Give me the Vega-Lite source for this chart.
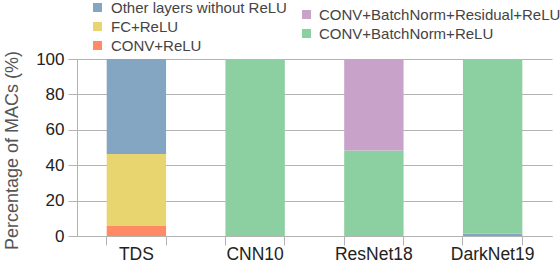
{
  "$schema": "https://vega.github.io/schema/vega-lite/v6.json",
  "width": 475,
  "height": 177,
  "autosize": "none",
  "padding": {"left": 77, "top": 59, "right": 8, "bottom": 26},
  "background": "white",
  "config": {
    "view": {"stroke": null},
    "font": "Liberation Sans",
    "axis": {"gridColor": "#b3b3b3", "domainColor": "#b3b3b3", "tickColor": "#b3b3b3", "labelFont": "Liberation Sans", "titleFont": "Liberation Sans"},
    "legend": {"labelFont": "Liberation Sans"}
  },
  "data": {
    "values": [
      {"model": "TDS", "layer": "CONV+ReLU", "pct": 5.6, "ord": 0, "group": "A"},
      {"model": "TDS", "layer": "FC+ReLU", "pct": 40.7, "ord": 1, "group": "A"},
      {"model": "TDS", "layer": "Other layers without ReLU", "pct": 53.7, "ord": 2, "group": "A"},
      {"model": "CNN10", "layer": "CONV+BatchNorm+ReLU", "pct": 100, "ord": 3, "group": "B"},
      {"model": "ResNet18", "layer": "CONV+BatchNorm+ReLU", "pct": 48.3, "ord": 3, "group": "B"},
      {"model": "ResNet18", "layer": "CONV+BatchNorm+Residual+ReLU", "pct": 51.7, "ord": 4, "group": "B"},
      {"model": "DarkNet19", "layer": "Other layers without ReLU", "pct": 1.3, "ord": 2, "group": "A"},
      {"model": "DarkNet19", "layer": "CONV+BatchNorm+ReLU", "pct": 98.7, "ord": 3, "group": "B"}
    ]
  },
  "transform": [
    {"stack": "pct", "groupby": ["model"], "sort": [{"field": "ord", "order": "ascending"}], "as": ["y0", "y1"]}
  ],
  "layer": [
    {
      "transform": [{"filter": "datum.group === 'A'"}],
      "mark": {"type": "bar"},
      "encoding": {
        "x": {
          "field": "model", "type": "nominal", "sort": ["TDS", "CNN10", "ResNet18", "DarkNet19"],
          "scale": {"paddingInner": 0.5, "paddingOuter": 0.25},
          "axis": {"title": null, "labelAngle": 0, "labelFontSize": 17.5, "labelColor": "#222", "bandPosition": 0, "tickSize": 9, "labelPadding": 0, "domainColor": "#b3b3b3", "orient": "bottom"}
        },
        "y": {
          "field": "y0", "type": "quantitative",
          "scale": {"domain": [0, 100], "nice": false},
          "axis": {"values": [0, 20, 40, 60, 80, 100], "labelOverlap": false, "title": "Percentage of MACs (%)", "titleFontSize": 18, "titleFontWeight": "normal", "titleColor": "#555", "titleX": -65, "titleY": 91, "titleAngle": -90, "titleAlign": "center", "titleBaseline": "middle", "labelFontSize": 17, "labelColor": "#222", "tickSize": 9, "labelPadding": 4}
        },
        "y2": {"field": "y1"},
        "color": {
          "field": "layer", "type": "nominal",
          "scale": {"domain": ["Other layers without ReLU", "FC+ReLU", "CONV+ReLU"], "range": ["#84a6c3", "#e8d570", "#ff8b66"]},
          "legend": {"title": null, "orient": "none", "legendX": 13, "legendY": -59, "symbolType": "square", "symbolSize": 81, "symbolStrokeWidth": 0, "labelFontSize": 15, "labelColor": "#444", "labelLimit": 400, "rowPadding": 3, "labelOffset": 6, "padding": 0}
        }
      }
    },
    {
      "transform": [{"filter": "datum.group === 'B'"}],
      "mark": {"type": "bar"},
      "encoding": {
        "x": {
          "field": "model", "type": "nominal", "sort": ["TDS", "CNN10", "ResNet18", "DarkNet19"],
          "axis": {"title": null, "labels": false, "domain": false, "grid": false, "bandPosition": 1, "tickSize": 9, "orient": "bottom"}
        },
        "y": {
          "field": "y0", "type": "quantitative",
          "axis": {"values": [0, 20, 40, 60, 80, 100], "labelOverlap": false, "title": "Percentage of MACs (%)", "titleFontSize": 18, "titleFontWeight": "normal", "titleColor": "#555", "titleX": -65, "titleY": 91, "titleAngle": -90, "titleAlign": "center", "titleBaseline": "middle", "labelFontSize": 17, "labelColor": "#222", "tickSize": 9, "labelPadding": 4}
        },
        "y2": {"field": "y1"},
        "color": {
          "field": "layer", "type": "nominal",
          "scale": {"domain": ["CONV+BatchNorm+Residual+ReLU", "CONV+BatchNorm+ReLU"], "range": ["#c8a2c8", "#8ccfa0"]},
          "legend": {"title": null, "orient": "none", "legendX": 222, "legendY": -52, "symbolType": "square", "symbolSize": 81, "symbolStrokeWidth": 0, "labelFontSize": 15, "labelColor": "#444", "labelLimit": 400, "rowPadding": 3, "labelOffset": 5, "padding": 0}
        }
      }
    }
  ],
  "resolve": {"scale": {"color": "independent"}, "axis": {"x": "independent"}}
}
